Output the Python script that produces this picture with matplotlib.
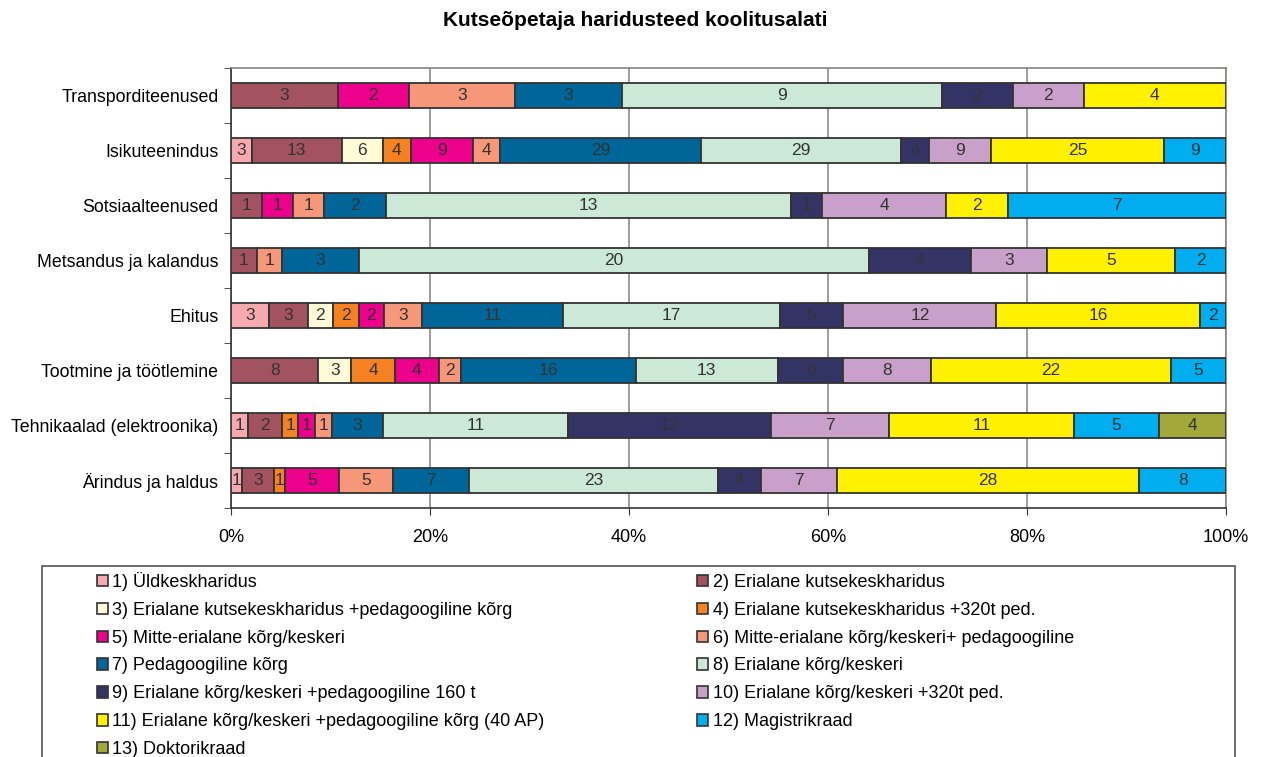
import numpy as np
import matplotlib
matplotlib.use("Agg")
import matplotlib.pyplot as plt
from matplotlib.patches import Patch, Rectangle

plt.rcParams['font.family'] = ['Liberation Sans', 'DejaVu Sans']

categories = ["Transporditeenused", "Isikuteenindus", "Sotsiaalteenused",
              "Metsandus ja kalandus", "Ehitus", "Tootmine ja töötlemine",
              "Tehnikaalad (elektroonika)", "Ärindus ja haldus"]

series_names = [
    "1) Üldkeskharidus",
    "2) Erialane kutsekeskharidus",
    "3) Erialane kutsekeskharidus +pedagoogiline kõrg",
    "4) Erialane kutsekeskharidus +320t ped.",
    "5) Mitte-erialane kõrg/keskeri",
    "6) Mitte-erialane kõrg/keskeri+ pedagoogiline",
    "7) Pedagoogiline kõrg",
    "8) Erialane kõrg/keskeri",
    "9) Erialane kõrg/keskeri +pedagoogiline 160 t",
    "10) Erialane kõrg/keskeri +320t ped.",
    "11) Erialane kõrg/keskeri +pedagoogiline kõrg (40 AP)",
    "12) Magistrikraad",
    "13) Doktorikraad",
]

# counts per category (same order as categories)
s1 = [0, 3, 0, 0, 3, 0, 1, 1]
s2 = [3, 13, 1, 1, 3, 8, 2, 3]
s3 = [0, 6, 0, 0, 2, 3, 0, 0]
s4 = [0, 4, 0, 0, 2, 4, 1, 1]
s5 = [2, 9, 1, 0, 2, 4, 1, 5]
s6 = [3, 4, 1, 1, 3, 2, 1, 5]
s7 = [3, 29, 2, 3, 11, 16, 3, 7]
s8 = [9, 29, 13, 20, 17, 13, 11, 23]
s9 = [2, 4, 1, 4, 5, 6, 12, 4]
s10 = [2, 9, 4, 3, 12, 8, 7, 7]
s11 = [4, 25, 2, 5, 16, 22, 11, 28]
s12 = [0, 9, 7, 2, 2, 5, 5, 8]
s13 = [0, 0, 0, 0, 0, 0, 4, 0]

colors = ["#F7A9B0", "#A3525F", "#FFFBD9", "#F58220", "#EC008C", "#F6977A",
          "#006699", "#CCE8D6", "#333366", "#C9A0C9", "#FFF100", "#00AEEF",
          "#A3A83A"]

data = np.array([s1, s2, s3, s4, s5, s6, s7, s8, s9, s10, s11, s12, s13], dtype=float)
totals = data.sum(axis=0)
shares = data / totals

fig = plt.figure(figsize=(12.61, 7.57), dpi=100)
ax = fig.add_axes([231 / 1261, 1 - 508 / 757, (1226 - 231) / 1261, 440 / 757])

y = np.arange(len(categories))
left = np.zeros(len(categories))
for i in range(len(data)):
    for j in range(len(categories)):
        if data[i, j] == 0:
            continue
        ax.barh(y[j], shares[i, j], left=left[j], height=0.47, color=colors[i],
                edgecolor="#333333", linewidth=1.3, zorder=3)
        ax.text(left[j] + shares[i, j] / 2, y[j], f"{int(data[i, j])}",
                ha="center", va="center", fontsize=12.5, color="#333333", zorder=4)
    left += shares[i]

ax.set_xlim(0, 1)
ax.set_ylim(len(categories) - 0.5, -0.5)
ax.set_xticks(np.arange(0, 1.01, 0.2))
ax.set_xticklabels([f"{int(v * 100)}%" for v in np.arange(0, 1.01, 0.2)], fontsize=13)
ax.set_yticks(y)
ax.set_yticklabels(categories, fontsize=12.8)
ax.set_yticks(np.arange(-0.5, len(categories), 1), minor=True)
ax.tick_params(axis="y", which="major", length=0, pad=9)
ax.tick_params(axis="y", which="minor", length=5, direction="out", color="#333333")
ax.tick_params(axis="x", length=5, direction="out", color="#333333", pad=10)
ax.grid(axis="x", color="#8c8c8c", linewidth=1.2, zorder=0)
ax.set_axisbelow(True)
for side in ["top", "right"]:
    ax.spines[side].set_color("#8c8080")
    ax.spines[side].set_linewidth(1.2)
for side in ["left", "bottom"]:
    ax.spines[side].set_color("#333333")
    ax.spines[side].set_linewidth(1.2)

fig.text(0.504, 1 - 20 / 757, "Kutseõpetaja haridusteed koolitusalati",
         ha="center", va="center", fontsize=15, fontweight="bold")

# legend box (runs off the bottom of the image)
fig.patches.append(Rectangle((42 / 1261, -0.1), (1235 - 42) / 1261, 0.1 + 1 - 566 / 757,
                             transform=fig.transFigure, fill=False,
                             edgecolor="#555555", linewidth=1.2))

order = list(range(0, 13, 2)) + list(range(1, 13, 2))
handles = [Patch(facecolor=colors[k], edgecolor="#333333", linewidth=1.2) for k in order]
labels = [series_names[k] for k in order]
fig.legend(handles, labels, loc="upper left", ncol=2,
           bbox_to_anchor=(97 / 1261, 1 - 572 / 757), frameon=False,
           fontsize=13, handlelength=0.6, handleheight=0.6,
           handletextpad=0.25, labelspacing=0.6, columnspacing=8.45,
           borderpad=0, borderaxespad=0)

fig.savefig("out.png", dpi=100)
